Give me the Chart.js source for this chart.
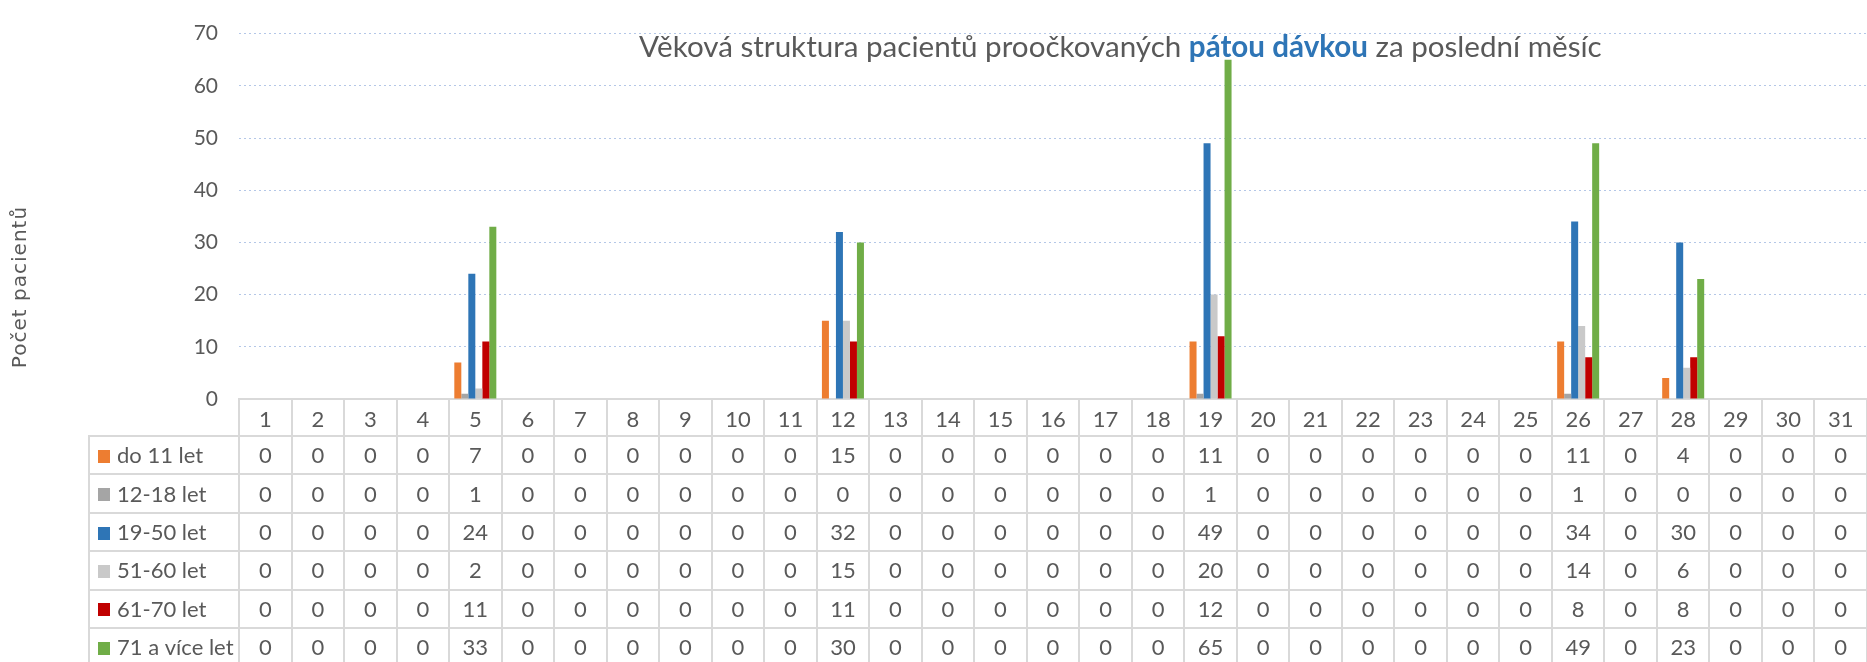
<!DOCTYPE html>
<html><head><meta charset="utf-8">
<script src="https://cdn.jsdelivr.net/npm/chart.js@4.4.1/dist/chart.umd.min.js"></script>
<style>html,body{margin:0;padding:0;background:#fff;overflow:hidden}canvas{display:block}</style>
</head><body>
<canvas id="c" width="1867" height="662"></canvas>
<script>
// ---- data ----
const categories = ['1','2','3','4','5','6','7','8','9','10','11','12','13','14','15','16','17','18','19','20','21','22','23','24','25','26','27','28','29','30','31'];
const seriesNames = ['do 11 let','12-18 let','19-50 let','51-60 let','61-70 let','71 a více let'];
const do11  = [0,0,0,0,7, 0,0,0,0,0, 0,15,0,0,0, 0,0,0,11,0, 0,0,0,0,0, 11,0,4,0,0, 0];
const s12_18= [0,0,0,0,1, 0,0,0,0,0, 0,0,0,0,0, 0,0,0,1,0, 0,0,0,0,0, 1,0,0,0,0, 0];
const s19_50= [0,0,0,0,24, 0,0,0,0,0, 0,32,0,0,0, 0,0,0,49,0, 0,0,0,0,0, 34,0,30,0,0, 0];
const s51_60= [0,0,0,0,2, 0,0,0,0,0, 0,15,0,0,0, 0,0,0,20,0, 0,0,0,0,0, 14,0,6,0,0, 0];
const s61_70= [0,0,0,0,11, 0,0,0,0,0, 0,11,0,0,0, 0,0,0,12,0, 0,0,0,0,0, 8,0,8,0,0, 0];
const s71   = [0,0,0,0,33, 0,0,0,0,0, 0,30,0,0,0, 0,0,0,65,0, 0,0,0,0,0, 49,0,23,0,0, 0];
const seriesColors = ['#ED7D31','#A5A5A5','#2E75B6','#C9C9C9','#C00000','#70AD47'];
const yMin = 0, yMax = 70, yStep = 10;
const titleParts = [
  {text:'Věková struktura pacientů proočkovaných ', bold:false, color:'#595959'},
  {text:'pátou dávkou', bold:true, color:'#2E75B6'},
  {text:' za poslední měsíc', bold:false, color:'#595959'}
];
const yTitle = 'Počet pacientů';

const seriesValues = [do11, s12_18, s19_50, s51_60, s61_70, s71];
const FONT = 'Lato, "Open Sans", sans-serif';
const TEXT = '#595959';
const LINE = '#D9D9D9';

const ROW_TOP = 436, ROW_H = 38.4, TABLE_LEFT = 89;

const titlePlugin = {
  id:'mixedTitle',
  afterDraw(chart){
    const ctx = chart.ctx;
    ctx.save();
    const base = 28;
    const f = (p,s)=> (p.bold?'bold ':'') + s + 'px ' + FONT;
    let W = 0;
    titleParts.forEach(p=>{ctx.font=f(p,base); W += ctx.measureText(p.text).width;});
    const size = base * 963 / W;
    let x = 639;
    ctx.textBaseline = 'alphabetic';
    ctx.textAlign = 'left';
    titleParts.forEach(p=>{
      ctx.font = f(p,size); ctx.fillStyle = p.color;
      ctx.fillText(p.text, x, 57);
      x += ctx.measureText(p.text).width;
    });
    // y axis title
    ctx.translate(21, 287);
    ctx.rotate(-Math.PI/2);
    if ('letterSpacing' in ctx) ctx.letterSpacing = '1px';
    ctx.font = '18px "DejaVu Sans", sans-serif';
    const tw = ctx.measureText(yTitle).width;
    const ts = 18 * 164 / tw;
    ctx.font = ts.toFixed(2) + 'px "DejaVu Sans", sans-serif';
    ctx.fillStyle = TEXT;
    ctx.textAlign = 'center';
    ctx.textBaseline = 'middle';
    ctx.fillText(yTitle, 0, 0);
    ctx.restore();
  }
};

const tablePlugin = {
  id:'dataTable',
  afterDraw(chart){
    const {ctx, chartArea:a, scales:{x}} = chart;
    const n = categories.length;
    const w = (a.right - a.left)/n;
    const H = chart.height;
    ctx.save();
    ctx.strokeStyle = LINE; ctx.lineWidth = 2;
    const line=(x1,y1,x2,y2)=>{ctx.beginPath();ctx.moveTo(x1,y1);ctx.lineTo(x2,y2);ctx.stroke();};
    for(let i=0;i<=n;i++){
      const xx = Math.round(a.left + i*w);
      line(xx, a.bottom, xx, H+2);
    }
    line(TABLE_LEFT, ROW_TOP-1, TABLE_LEFT, H+2);
    for(let r=0;r<=seriesNames.length;r++){
      const yy = Math.round(ROW_TOP + r*ROW_H);
      line(TABLE_LEFT-1, yy, a.right+2, yy);
    }
    ctx.font = '22px ' + FONT;
    ctx.fillStyle = TEXT;
    ctx.textBaseline = 'middle';
    chart.data.datasets.forEach((ds, r)=>{
      const cy = ROW_TOP + r*ROW_H + ROW_H/2 + 1;
      ctx.fillStyle = ds.backgroundColor;
      ctx.fillRect(98, Math.round(cy-6.5), 12, 13);
      ctx.fillStyle = TEXT;
      ctx.textAlign = 'left';
      ctx.fillText(ds.label, 117, cy);
      ctx.textAlign = 'center';
      ds.data.forEach((v,i)=>{
        ctx.fillText(String(v), x.getPixelForValue(i), cy);
      });
    });
    ctx.restore();
  }
};

new Chart(document.getElementById('c'), {
  type:'bar',
  data:{
    labels: categories,
    datasets: seriesNames.map((name,i)=>({
      label:name, data:seriesValues[i], backgroundColor:seriesColors[i],
      borderWidth:0, categoryPercentage:0.8, barPercentage:1.0
    }))
  },
  options:{
    responsive:false, animation:false, devicePixelRatio:1,
    layout:{padding:{top:25, left:0, right:0, bottom:662-ROW_TOP}},
    plugins:{legend:{display:false}, title:{display:false}, tooltip:{enabled:false}},
    scales:{
      x:{
        grid:{display:false, drawTicks:false},
        border:{display:true, color:LINE, width:2},
        ticks:{font:{family:FONT, size:22}, color:TEXT, padding:8, maxRotation:0, autoSkip:false},
        afterFit:(s)=>{ s.height = ROW_TOP - 399; }
      },
      y:{
        min:yMin, max:yMax,
        ticks:{stepSize:yStep, font:{family:FONT, size:21}, color:TEXT, padding:21},
        grid:{color:(c)=> c.tick && c.tick.value===0 ? 'rgba(0,0,0,0)' : '#B4C7E7', lineWidth:1, drawTicks:false},
        border:{display:false, dash:[2,3]},
        afterFit:(s)=>{ s.width = 239; }
      }
    }
  },
  plugins:[titlePlugin, tablePlugin]
});
</script>
</body></html>
